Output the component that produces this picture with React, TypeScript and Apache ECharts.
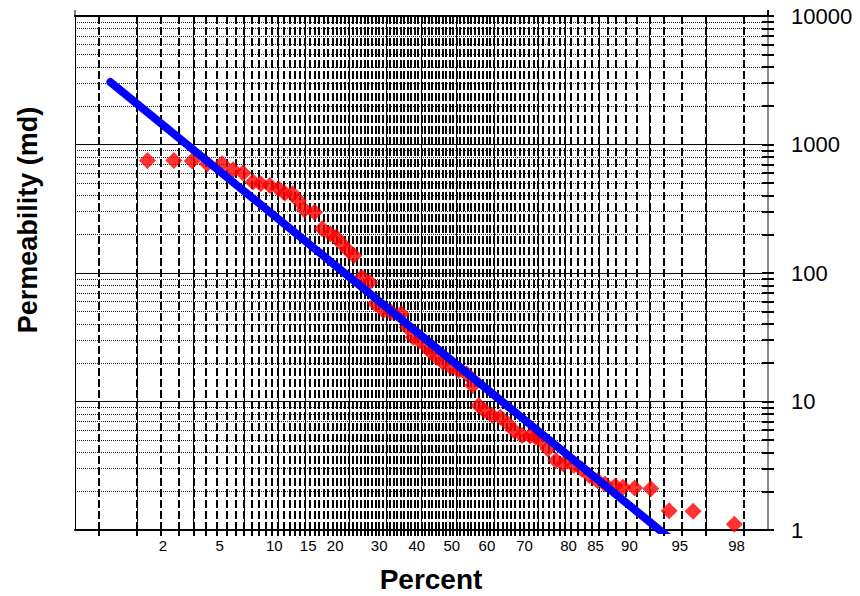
import React, { useEffect, useRef } from "react";
import * as echarts from "echarts";

const FONT = '"Liberation Sans", Arial, Helvetica, sans-serif';

// Cumulative frequency (%) of each core sample, ranked from highest permeability down
const samplePercents = [
  2.4, 3.7, 4.9, 6.1, 7.5, 8.7, 9.9, 11.2, 12.3, 13.7, 15.1, 16.2, 17.6, 18.7, 19.9,
  22.0, 23.7, 25.5, 26.9, 28.3, 29.8, 31.3, 33.3, 35.4, 37.0, 39.2, 41.4, 44.2, 45.9,
  47.6, 49.3, 51.6, 52.7, 54.4, 56.1, 58.4, 60.6, 62.8, 64.4, 66.0, 67.5, 69.5, 71.5,
  73.4, 74.8, 76.6, 78.3, 79.5, 80.7, 81.9, 83.4, 84.7, 86.4, 87.6, 88.7, 89.8, 90.7,
  91.9, 92.7, 93.8, 95.1, 96.3, 97.5, 98.8,
];
// Permeability of each sample (md)
const samplePermeability = [
  752, 752, 743, 709, 709, 636, 599, 510, 495, 480, 453, 418, 414, 367, 311,
  297, 221, 202, 190, 169, 150, 137, 92.7, 84.8, 57.6, 51.0, 49.5, 48.1, 37.8,
  31.6, 29.8, 26.4, 24.2, 22.1, 20.2, 18.5, 17.4, 16.4, 13.3, 9.29, 8.5, 7.77, 7.53,
  6.69, 5.93, 5.43, 5.4, 5.26, 4.96, 4.27, 3.47, 3.27, 3.17, 2.99, 2.65, 2.42, 2.28,
  2.2, 2.15, 2.12, 2.09, 1.41, 1.4, 1.11,
];

// Log-normal fit line end points
const fitPercents = [1.24, 97.7];
const fitPermeability = [3060, 0.57];

// Labelled probability values on the percent axis
const labelPercents = [2, 5, 10, 15, 20, 30, 40, 50, 60, 70, 80, 85, 90, 95, 98];
// Decade labels on the permeability axis
const decadeValues = [1, 10, 100, 1000, 10000];

// Inverse standard normal CDF (Acklam's rational approximation)
function probit(p: number): number {
  const a = [-3.969683028665376e1, 2.209460984245205e2, -2.759285104469687e2, 1.38357751867269e2, -3.066479806614716e1, 2.506628277459239];
  const b = [-5.447609879822406e1, 1.615858368580409e2, -1.556989798598866e2, 6.680131188771972e1, -1.328068155288572e1];
  const c = [-7.784894002430293e-3, -3.223964580411365e-1, -2.400758277161838, -2.549732539343734, 4.374664141464968, 2.938163982698783];
  const d = [7.784695709041462e-3, 3.224671290700398e-1, 2.445134137142996, 3.754408661907416];
  const pl = 0.02425;
  if (p < pl) {
    const q = Math.sqrt(-2 * Math.log(p));
    return (((((c[0] * q + c[1]) * q + c[2]) * q + c[3]) * q + c[4]) * q + c[5]) /
      ((((d[0] * q + d[1]) * q + d[2]) * q + d[3]) * q + 1);
  }
  if (p <= 1 - pl) {
    const q = p - 0.5;
    const r = q * q;
    return ((((((a[0] * r + a[1]) * r + a[2]) * r + a[3]) * r + a[4]) * r + a[5]) * q) /
      (((((b[0] * r + b[1]) * r + b[2]) * r + b[3]) * r + b[4]) * r + 1);
  }
  const q = Math.sqrt(-2 * Math.log(1 - p));
  return -(((((c[0] * q + c[1]) * q + c[2]) * q + c[3]) * q + c[4]) * q + c[5]) /
    ((((d[0] * q + d[1]) * q + d[2]) * q + d[3]) * q + 1);
}

const pct = (p: number) => probit(p / 100);

// Probability-paper grid: a line at every whole percent
const gridPercents: number[] = [];
for (let p = 1; p <= 99; p++) gridPercents.push(p);

// Log-paper grid: 1..9 in each decade
const logGrid: number[] = [];
for (let dec = 1; dec < 10000; dec *= 10) {
  for (let m = 1; m <= 9; m++) logGrid.push(m * dec);
}
logGrid.push(10000);

const labelZ = labelPercents.map(pct);

function percentLabel(v: number): string {
  let best = 0;
  for (let i = 1; i < labelZ.length; i++) {
    if (Math.abs(labelZ[i] - v) < Math.abs(labelZ[best] - v)) best = i;
  }
  return String(labelPercents[best]);
}

export default function App() {
  const ref = useRef<HTMLDivElement>(null);

  useEffect(() => {
    if (!ref.current) return;
    const chart = echarts.init(ref.current, undefined, { renderer: "svg" });

    const samples = samplePercents.map((p, i) => [pct(p), samplePermeability[i]]);
    const fit = fitPercents.map((p, i) => [pct(p), fitPermeability[i]]);

    chart.setOption({
      animation: false,
      backgroundColor: "#ffffff",
      textStyle: { fontFamily: FONT },
      grid: { left: 75, right: 92, top: 16, bottom: 66, containLabel: false },
      xAxis: [
        {
          type: "value",
          min: -2.5,
          max: 2.5,
          position: "bottom",
          axisLine: { show: true, onZero: false, lineStyle: { color: "#000", width: 2 } },
          axisTick: {
            show: true,
            customValues: gridPercents.map(pct),
            length: 6,
            lineStyle: { color: "#000", width: 2 },
          },
          axisLabel: {
            show: true,
            customValues: labelZ,
            formatter: (v: number) => percentLabel(v),
            align: "left",
            padding: [0, 0, 0, 22],
            margin: 8,
            fontSize: 15,
            color: "#000",
            fontFamily: FONT,
          },
          splitLine: { show: true, lineStyle: { color: "#000", width: 2, type: [8, 3] } },
        },
        {
          type: "value",
          min: -2.5,
          max: 2.5,
          position: "top",
          axisLine: { show: true, onZero: false, lineStyle: { color: "#000", width: 2 } },
          axisTick: { show: false, customValues: labelZ },
          axisLabel: { show: false },
          splitLine: { show: true, lineStyle: { color: "#000", width: 1, type: "solid" } },
        },
      ],
      yAxis: [
        {
          type: "log",
          logBase: 10,
          min: 1,
          max: 10000,
          position: "right",
          axisLine: { show: true, onZero: false, lineStyle: { color: "#8c8c8c", width: 2 } },
          axisTick: {
            show: true,
            customValues: logGrid,
            length: 6,
            lineStyle: { color: "#000", width: 2 },
          },
          axisLabel: {
            show: true,
            customValues: decadeValues,
            formatter: (v: number) => String(Math.round(v)),
            margin: 23,
            fontSize: 22,
            color: "#000",
            fontFamily: FONT,
          },
          splitLine: { show: true, lineStyle: { color: "#222", width: 1, type: "dotted" } },
        },
        {
          type: "log",
          logBase: 10,
          min: 1,
          max: 10000,
          position: "right",
          axisLine: { show: false, onZero: false },
          axisTick: {
            show: true,
            inside: true,
            customValues: logGrid,
            length: 6,
            lineStyle: { color: "#000", width: 2 },
          },
          axisLabel: { show: false },
          splitLine: { show: false },
        },
        {
          type: "log",
          logBase: 10,
          min: 1,
          max: 10000,
          position: "left",
          axisLine: { show: true, onZero: false, lineStyle: { color: "#000", width: 1 } },
          axisTick: { show: false, customValues: decadeValues },
          axisLabel: { show: false },
          splitLine: { show: true, lineStyle: { color: "#000", width: 1, type: "solid" } },
        },
      ],
      series: [
        {
          name: "Samples",
          type: "scatter",
          xAxisIndex: 0,
          yAxisIndex: 0,
          data: samples,
          symbol: "diamond",
          symbolSize: 17,
          itemStyle: { color: "#ff0000" },
          z: 3,
        },
        {
          name: "Fit",
          type: "line",
          xAxisIndex: 0,
          yAxisIndex: 0,
          data: fit,
          symbol: "none",
          showSymbol: false,
          clip: true,
          lineStyle: { color: "#0000ff", width: 8, cap: "round" },
          z: 4,
        },
      ],
      graphic: [
        // short stubs where the side axes run past the top frame
        {
          type: "line",
          shape: { x1: 75, y1: 10, x2: 75, y2: 16 },
          style: { stroke: "#000", lineWidth: 1 },
        },
        {
          type: "line",
          shape: { x1: 768, y1: 10, x2: 768, y2: 16 },
          style: { stroke: "#000", lineWidth: 2 },
        },
        {
          type: "text",
          x: 431,
          y: 579,
          style: {
            text: "Percent",
            fontSize: 28,
            fontWeight: "bold",
            fontFamily: FONT,
            fill: "#000",
            align: "center",
            verticalAlign: "middle",
          },
        },
        {
          type: "text",
          x: 28,
          y: 220,
          rotation: Math.PI / 2,
          style: {
            text: "Permeability (md)",
            fontSize: 27,
            fontWeight: "bold",
            fontFamily: FONT,
            fill: "#000",
            align: "center",
            verticalAlign: "middle",
          },
        },
      ],
    });

    return () => chart.dispose();
  }, []);

  return (
    <div
      ref={ref}
      style={{ position: "fixed", left: 0, top: 0, width: 860, height: 596, background: "#fff" }}
    />
  );
}
